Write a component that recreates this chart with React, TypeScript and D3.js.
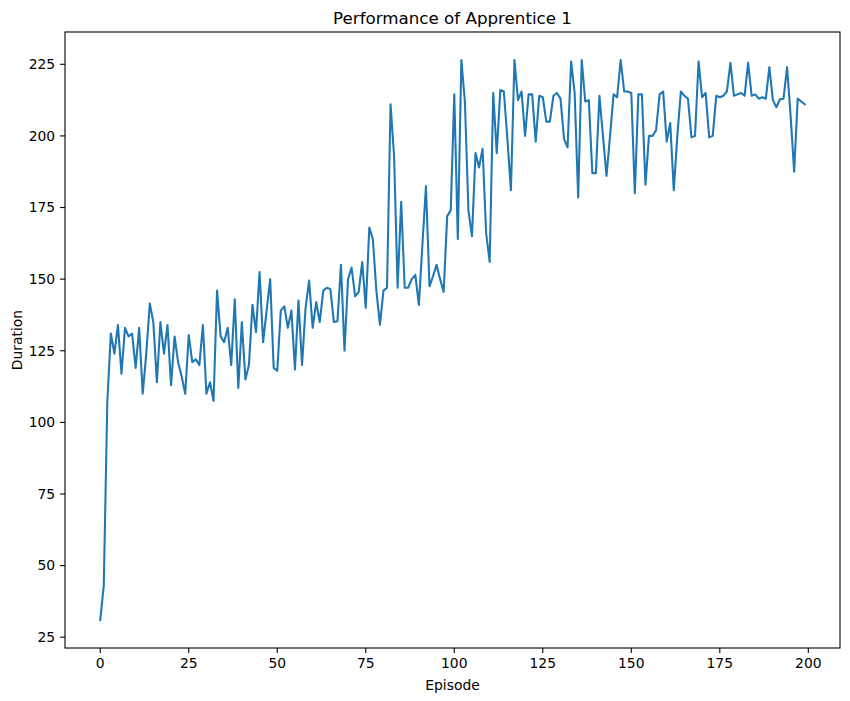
import React from "react";
import * as d3 from "d3";

const durations: number[] = [
  31, 43, 107, 131, 124, 134, 117, 133, 130, 131,
  119, 133, 110, 124, 141.5, 135, 114, 135, 124, 134,
  113, 130, 121, 116, 110, 130.5, 121, 122, 120, 134,
  110, 114, 107.5, 146, 130, 128, 133, 120, 143, 112,
  135, 115, 120, 141, 131.5, 152.5, 128, 139, 150, 119,
  118, 139, 140.5, 133, 139, 118.5, 142.5, 120, 140, 149.5,
  133, 142, 135, 146, 147, 146.5, 135, 135.3, 155, 125,
  150, 154, 144, 145.5, 156, 140, 168, 164, 146, 134,
  146, 147, 211, 193, 147, 177, 147, 147, 150, 151.5,
  141, 162, 182.5, 147.5, 151, 155, 150, 145.5, 172, 174,
  214.5, 164, 226.5, 212, 174, 165, 194, 189, 195.5, 166,
  156, 215, 194, 216, 215.5, 199, 181, 226.5, 212.5, 215.5,
  200, 214.5, 214.5, 198, 214, 213.5, 205, 205, 214, 215,
  213, 199, 196, 226, 215, 178.5, 226.5, 212, 212.5, 187,
  187, 214, 200, 186, 200, 214.5, 213.5, 226.5, 215.5, 215.5,
  215, 180, 214.5, 214.5, 183, 200, 200, 202, 214.5, 215.5,
  198, 204.5, 181, 200, 215.5, 214, 213, 199.5, 200, 226,
  213.5, 215, 199.5, 200, 214, 213.5, 214, 215.5, 225.5, 214,
  214.5, 215, 214, 225.5, 214, 214.5, 213, 213.5, 213, 224,
  212.5, 210, 212.8, 213, 224, 207, 187.5, 213, 212, 211,
];
const episodes: number[] = durations.map((_, i) => i);

const xTicks = [0, 25, 50, 75, 100, 125, 150, 175, 200];
const yTicks = [25, 50, 75, 100, 125, 150, 175, 200, 225];

const title = "Performance of Apprentice 1";
const xLabel = "Episode";
const yLabel = "Duration";

const W = 850;
const H = 701;
const left = 65;
const right = 840;
const top = 32;
const bottom = 648;
const font = "DejaVu Sans, sans-serif";

export default function App() {
  const xExt = d3.extent(episodes) as [number, number];
  const yExt = d3.extent(durations) as [number, number];
  const xPad = (xExt[1] - xExt[0]) * 0.05;
  const yPad = (yExt[1] - yExt[0]) * 0.05;
  const x = d3.scaleLinear().domain([xExt[0] - xPad, xExt[1] + xPad]).range([left, right]);
  const y = d3.scaleLinear().domain([yExt[0] - yPad, yExt[1] + yPad]).range([bottom, top]);
  const line = d3
    .line<number>()
    .x((_, i) => x(episodes[i]))
    .y((d) => y(d));
  const path = line(durations) || "";

  return (
    <svg
      width={W}
      height={H}
      style={{ position: "absolute", left: 0, top: 0, background: "#fff" }}
      fontFamily={font}
    >
      <rect x={0} y={0} width={W} height={H} fill="#fff" />
      <path d={path} fill="none" stroke="#1f77b4" strokeWidth={2.08} strokeLinejoin="round" strokeLinecap="square" />
      <rect x={left} y={top} width={right - left} height={bottom - top} fill="none" stroke="#000" strokeWidth={1.1} />
      {xTicks.map((t) => (
        <g key={"x" + t}>
          <line x1={x(t)} x2={x(t)} y1={bottom} y2={bottom + 4.9} stroke="#000" strokeWidth={1.1} />
          <text x={x(t)} y={bottom + 20} textAnchor="middle" fontSize={13.9} fill="#000">
            {t}
          </text>
        </g>
      ))}
      {yTicks.map((t) => (
        <g key={"y" + t}>
          <line x1={left - 4.9} x2={left} y1={y(t)} y2={y(t)} stroke="#000" strokeWidth={1.1} />
          <text x={left - 9.8} y={y(t)} dy="0.35em" textAnchor="end" fontSize={13.9} fill="#000">
            {t}
          </text>
        </g>
      ))}
      <text x={(left + right) / 2} y={top - 8} textAnchor="middle" fontSize={16.7} fill="#000">
        {title}
      </text>
      <text x={(left + right) / 2} y={690} textAnchor="middle" fontSize={13.9} fill="#000">
        {xLabel}
      </text>
      <text
        transform={`translate(22, ${(top + bottom) / 2}) rotate(-90)`}
        textAnchor="middle"
        fontSize={13.9}
        fill="#000"
      >
        {yLabel}
      </text>
    </svg>
  );
}
